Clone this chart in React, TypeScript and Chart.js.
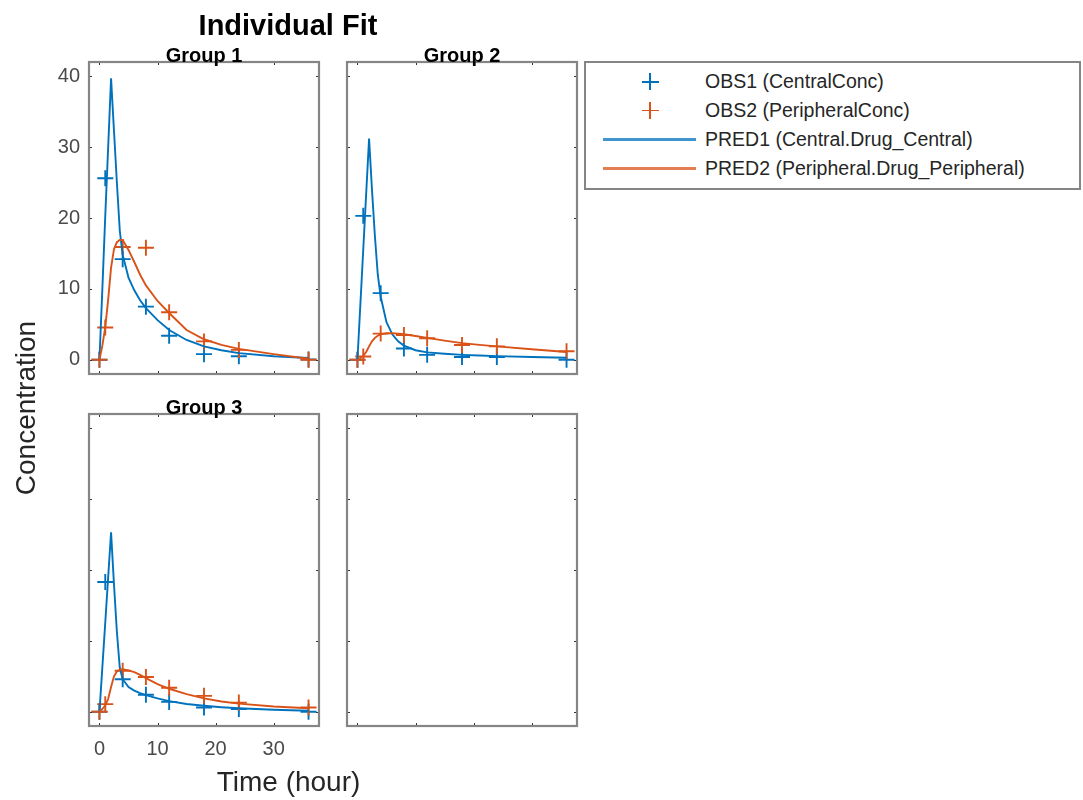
import React, { useEffect, useRef } from "react";
import { Chart, registerables } from "chart.js";

Chart.register(...registerables);

// ---------- data ----------
const obsTimes = [0, 1, 4, 8, 12, 18, 24, 36];
const predTimes = [0, 0.5, 1, 1.5, 2, 2.5, 3, 3.5, 4, 5, 6, 7, 8, 10, 12, 15, 18, 21, 24, 30, 36];

const g1Obs1 = [0, 25.6, 14.2, 7.5, 3.4, 0.8, 0.5, 0.05];
const g1Obs2 = [0, 4.55, 15.9, 15.8, 6.7, 2.6, 1.4, 0.0];
const g1Pred1 = [0, 10, 20.3, 30, 39.7, 32.3, 25.0, 18.2, 14.8, 11.6, 9.8, 8.4, 7.3, 5.6, 4.2, 2.8, 1.9, 1.35, 0.95, 0.5, 0.25];
const g1Pred2 = [0, 2.0, 4.6, 8.5, 13.0, 15.6, 16.6, 16.9, 16.9, 15.5, 13.8, 12.0, 10.5, 8.3, 6.6, 4.2, 2.9, 2.1, 1.55, 0.8, 0.15];

const g2Obs1 = [0, 20.3, 9.4, 1.6, 0.7, 0.4, 0.4, 0.0];
const g2Obs2 = [0, 0.47, 3.7, 3.5, 3.05, 2.1, 1.9, 1.2];
const g2Pred1 = [0, 7.8, 15.6, 23.4, 31.2, 24.0, 17.5, 12.0, 8.9, 5.3, 3.6, 2.6, 2.0, 1.35, 1.05, 0.85, 0.7, 0.6, 0.52, 0.4, 0.3];
const g2Pred2 = [0, 0.25, 0.55, 1.1, 1.9, 2.6, 3.1, 3.4, 3.6, 3.75, 3.75, 3.7, 3.6, 3.35, 3.1, 2.7, 2.35, 2.1, 1.9, 1.5, 1.1];

const g3Obs1 = [0, 18.3, 4.6, 2.4, 1.4, 0.6, 0.4, 0.0];
const g3Obs2 = [0, 1.08, 5.8, 4.9, 3.4, 2.25, 1.3, 0.6];
const g3Pred1 = [0, 6.3, 12.6, 19.0, 25.3, 18.0, 11.3, 6.2, 4.6, 3.5, 3.0, 2.65, 2.35, 1.9, 1.5, 1.1, 0.85, 0.65, 0.5, 0.3, 0.15];
const g3Pred2 = [0, 0.4, 0.9, 1.8, 3.5, 5.0, 5.7, 5.95, 6.0, 5.85, 5.6, 5.2, 4.75, 3.9, 3.25, 2.5, 1.9, 1.45, 1.15, 0.75, 0.5];

const xTicks = [0, 10, 20, 30];
const yTicks = [0, 10, 20, 30, 40];
const xRange = [-1.8, 37.8];
const yRange = [-2, 42];

const seriesNames = [
  "OBS1 (CentralConc)",
  "OBS2 (PeripheralConc)",
  "PRED1 (Central.Drug_Central)",
  "PRED2 (Peripheral.Drug_Peripheral)",
];
const groupTitles = ["Group 1", "Group 2", "Group 3"];

// ---------- style ----------
const BLUE = "#0072BD";
const ORANGE = "#D95319";
const FONT = "'Liberation Sans', Arial, Helvetica, sans-serif";
const AX_W = 60;
const PAD_T = 30;
const PAD_R = 15;
const AX_H = 50;
const AREA_W = 230;
const AREA_H = 312;

const framePlugin = {
  id: "frame",
  afterDraw(chart: any, _args: any, opts: any) {
    const { ctx, chartArea: a, scales } = chart;
    const x = scales.x;
    const y = scales.y;
    ctx.save();
    ctx.strokeStyle = "#303030";
    ctx.lineWidth = 1;
    const tl = 3;
    ctx.beginPath();
    xTicks.forEach((v) => {
      const px = Math.round(x.getPixelForValue(v)) + 0.5;
      ctx.moveTo(px, a.bottom);
      ctx.lineTo(px, a.bottom - tl);
      ctx.moveTo(px, a.top);
      ctx.lineTo(px, a.top + tl);
    });
    yTicks.forEach((v) => {
      const py = Math.round(y.getPixelForValue(v)) + 0.5;
      ctx.moveTo(a.left, py);
      ctx.lineTo(a.left + tl, py);
      ctx.moveTo(a.right, py);
      ctx.lineTo(a.right - tl, py);
    });
    ctx.stroke();
    ctx.strokeStyle = "#858585";
    ctx.lineWidth = 2.2;
    ctx.strokeRect(a.left, a.top, a.right - a.left, a.bottom - a.top);
    if (opts && opts.title) {
      ctx.fillStyle = "#000";
      ctx.font = `bold 20px ${FONT}`;
      ctx.textAlign = "center";
      ctx.textBaseline = "alphabetic";
      ctx.fillText(opts.title, (a.left + a.right) / 2, a.top);
    }
    ctx.restore();
  },
};

type Group = {
  obs1: number[];
  obs2: number[];
  pred1: number[];
  pred2: number[];
};

function toXY(times: number[], vals: number[]) {
  return times.map((t, i) => ({ x: t, y: vals[i] }));
}

function Panel(props: {
  left: number;
  top: number;
  group: Group | null;
  title: string;
  showX: boolean;
  showY: boolean;
}) {
  const ref = useRef<HTMLCanvasElement | null>(null);
  const { left, top, group, title, showX, showY } = props;
  const W = AX_W + AREA_W + PAD_R;
  const H = PAD_T + AREA_H + AX_H;

  useEffect(() => {
    if (!ref.current) return;
    const datasets: any[] = [];
    if (group) {
      datasets.push(
        {
          label: seriesNames[3],
          data: toXY(predTimes, group.pred2),
          showLine: true,
          borderColor: ORANGE,
          borderWidth: 1.9,
          pointRadius: 0,
          tension: 0,
        },
        {
          label: seriesNames[2],
          data: toXY(predTimes, group.pred1),
          showLine: true,
          borderColor: BLUE,
          borderWidth: 1.9,
          pointRadius: 0,
          tension: 0,
        },
        {
          label: seriesNames[1],
          data: toXY(obsTimes, group.obs2),
          showLine: false,
          pointStyle: "cross",
          pointRadius: 8,
          pointBorderColor: ORANGE,
          pointBorderWidth: 1.9,
          pointBackgroundColor: "rgba(0,0,0,0)",
        },
        {
          label: seriesNames[0],
          data: toXY(obsTimes, group.obs1),
          showLine: false,
          pointStyle: "cross",
          pointRadius: 8,
          pointBorderColor: BLUE,
          pointBorderWidth: 1.9,
          pointBackgroundColor: "rgba(0,0,0,0)",
        }
      );
    }
    const chart = new Chart(ref.current, {
      type: "scatter",
      data: { datasets },
      plugins: [framePlugin],
      options: {
        animation: false,
        responsive: false,
        maintainAspectRatio: false,
        events: [],
        layout: {
          padding: { left: 0, top: PAD_T, right: PAD_R, bottom: 0 },
          autoPadding: false,
        } as any,
        plugins: {
          legend: { display: false },
          tooltip: { enabled: false },
          title: { display: false },
          frame: { title },
        } as any,
        scales: {
          x: {
            type: "linear",
            position: "bottom",
            min: xRange[0],
            max: xRange[1],
            grid: { display: false, drawTicks: false },
            border: { display: false },
            ticks: {
              display: showX,
              padding: 11,
              color: "#4a4a4a",
              font: { family: FONT, size: 20 },
              callback: (v: any) => String(v),
            },
            afterBuildTicks: (s: any) => {
              s.ticks = xTicks.map((v) => ({ value: v }));
            },
            afterFit: (s: any) => {
              s.height = AX_H;
              s.paddingLeft = 0;
              s.paddingRight = 0;
            },
          },
          y: {
            type: "linear",
            position: "left",
            min: yRange[0],
            max: yRange[1],
            grid: { display: false, drawTicks: false },
            border: { display: false },
            ticks: {
              display: showY,
              padding: 9,
              color: "#4a4a4a",
              font: { family: FONT, size: 20 },
              callback: (v: any) => String(v),
            },
            afterBuildTicks: (s: any) => {
              s.ticks = yTicks.map((v) => ({ value: v }));
            },
            afterFit: (s: any) => {
              s.width = AX_W;
              s.paddingTop = 0;
              s.paddingBottom = 0;
            },
          },
        },
      } as any,
    });
    return () => chart.destroy();
  }, []);

  return (
    <canvas
      ref={ref}
      width={W}
      height={H}
      style={{
        position: "absolute",
        left: left - AX_W,
        top: top - PAD_T,
        width: W,
        height: H,
      }}
    />
  );
}

function LegendRow(props: { kind: "plus" | "line"; color: string; label: string; center: number }) {
  const { kind, color, label, center } = props;
  const fs = 19.5;
  const items: any[] = [];
  if (kind === "plus") {
    items.push(
      <div key="h" style={{ position: "absolute", left: 641.5, top: center - 0.9, width: 17, height: 1.8, background: color }} />,
      <div key="v" style={{ position: "absolute", left: 649.1, top: center - 8.5, width: 1.8, height: 17, background: color }} />
    );
  } else {
    items.push(
      <div key="l" style={{ position: "absolute", left: 603, top: center - 1.2, width: 93, height: 2.4, background: color, opacity: 0.75 }} />
    );
  }
  return (
    <>
      {items}
      <div
        style={{
          position: "absolute",
          left: 705,
          top: center + 0.358 * fs - 0.8465 * fs,
          fontFamily: FONT,
          fontSize: fs,
          lineHeight: `${fs}px`,
          color: "#262626",
          whiteSpace: "nowrap",
        }}
      >
        {label}
      </div>
    </>
  );
}

export default function App() {
  const g1: Group = { obs1: g1Obs1, obs2: g1Obs2, pred1: g1Pred1, pred2: g1Pred2 };
  const g2: Group = { obs1: g2Obs1, obs2: g2Obs2, pred1: g2Pred1, pred2: g2Pred2 };
  const g3: Group = { obs1: g3Obs1, obs2: g3Obs2, pred1: g3Pred1, pred2: g3Pred2 };

  return (
    <div
      style={{
        position: "absolute",
        left: 0,
        top: 0,
        width: 1083,
        height: 800,
        background: "#fff",
        overflow: "hidden",
      }}
    >
      <Panel left={89} top={62} group={g1} title={groupTitles[0]} showX={false} showY={true} />
      <Panel left={347} top={62} group={g2} title={groupTitles[1]} showX={false} showY={false} />
      <Panel left={89} top={414} group={g3} title={groupTitles[2]} showX={true} showY={false} />
      <Panel left={347} top={414} group={null} title="" showX={false} showY={false} />

      <div
        style={{
          position: "absolute",
          left: 88,
          width: 400,
          top: 10.5,
          textAlign: "center",
          fontFamily: FONT,
          fontWeight: "bold",
          fontSize: 29,
          lineHeight: "29px",
          color: "#000",
          whiteSpace: "nowrap",
        }}
      >
        Individual Fit
      </div>
      <div
        style={{
          position: "absolute",
          left: 88.5,
          width: 400,
          top: 768,
          textAlign: "center",
          fontFamily: FONT,
          fontSize: 28,
          lineHeight: "28px",
          color: "#262626",
          whiteSpace: "nowrap",
        }}
      >
        Time (hour)
      </div>
      <div
        style={{
          position: "absolute",
          left: 26.3 - 150,
          top: 408 - 14,
          width: 300,
          height: 28,
          textAlign: "center",
          fontFamily: FONT,
          fontSize: 28,
          lineHeight: "28px",
          color: "#262626",
          whiteSpace: "nowrap",
          transform: "rotate(-90deg)",
        }}
      >
        Concentration
      </div>

      <div
        style={{
          position: "absolute",
          left: 584,
          top: 61,
          width: 497,
          height: 129,
          boxSizing: "border-box",
          border: "2px solid #858585",
          background: "#fff",
        }}
      />
      <LegendRow kind="plus" color={BLUE} label={seriesNames[0]} center={81.7} />
      <LegendRow kind="plus" color={ORANGE} label={seriesNames[1]} center={110.5} />
      <LegendRow kind="line" color={BLUE} label={seriesNames[2]} center={139.6} />
      <LegendRow kind="line" color={ORANGE} label={seriesNames[3]} center={168.6} />
    </div>
  );
}
